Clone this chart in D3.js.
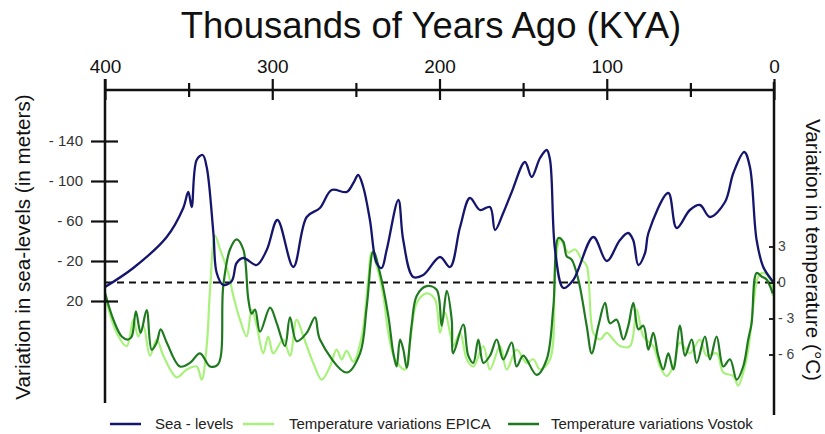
<!DOCTYPE html>
<html>
<head>
<meta charset="utf-8">
<script src="https://cdn.jsdelivr.net/npm/d3@7"></script>
<style>
  body { margin: 0; background: #fff; }
  svg { font-family: "Liberation Sans", Arial, sans-serif; }
</style>
</head>
<body>
<div id="graph"></div>
<script>
// x in thousands of years ago, sea level in the axis units (negative = up), temps in deg C
var xTicks = [400, 300, 200, 100, 0]
var seaTicks = [-140, -100, -60, -20, 20]
var tempTicks = [3, 0, -3, -6]
var legendNames = ["Sea - levels", "Temperature variations EPICA", "Temperature variations Vostok"]
var colors = ["#15156e", "#a8f27c", "#1f7a1f"]

var seaKya = [400, 383.1, 363.1, 353.2, 350.2, 348.2, 345.2, 341.6, 339.2, 335.2, 333.2, 329.3, 324.2, 321.3, 317.3, 309.3, 303.3, 296.9, 287.4, 279.4, 271.5, 264.5, 255.5, 251.5, 248.6, 245.6, 241.6, 237.6, 234.6, 231.6, 224.6, 221.7, 215.7, 209.7, 199.7, 193.7, 187.7, 181.8, 175.8, 169.8, 166.8, 161.9, 156.8, 148.9, 144.9, 139.9, 135.9, 133.9, 130.9, 125.9, 120.0, 108.0, 100.0, 92.1, 87.2, 84.2, 81.1, 77.1, 75.1, 63.2, 58.2, 50.3, 44.3, 38.3, 29.3, 24.3, 17.8, 14.4, 10.4, 6.4, 1.4, 0]
var seaLevel = [6, -13, -44, -73, -89, -74, -121, -126, -114, -48, -8, 4, 0, -18, -23, -16, -31, -61, -14, -64, -73, -91, -89, -98, -106, -94, -61, -18, -13, -31, -81, -41, -4, -6, -24, -14, -54, -83, -71, -74, -51, -68, -89, -119, -104, -123, -131, -121, -31, 7, -1, -44, -20, -41, -48, -41, -16, -28, -48, -88, -53, -71, -76, -64, -79, -108, -129, -114, -41, -14, -1, 2]

var epicaKya = [400, 393.0, 387.0, 383.1, 380.1, 377.1, 373.1, 369.1, 365.1, 357.1, 351.1, 345.2, 342.2, 339.2, 337.2, 334.2, 331.2, 326.3, 323.3, 319.3, 315.3, 312.3, 309.3, 305.4, 302.4, 299.4, 293.4, 289.4, 285.4, 281.4, 275.5, 270.4, 265.5, 261.5, 258.5, 255.5, 251.5, 246.5, 242.6, 240.6, 237.6, 233.6, 230.6, 226.6, 220.6, 217.6, 213.6, 207.7, 202.7, 199.7, 196.7, 193.7, 191.8, 187.7, 183.7, 179.8, 173.8, 169.8, 163.8, 159.8, 153.9, 147.9, 143.9, 139.9, 133.9, 130.9, 127.9, 123.0, 118.9, 115.0, 112.0, 108.0, 104.0, 100.0, 96.1, 92.1, 86.1, 82.1, 78.1, 72.2, 68.2, 64.2, 60.2, 56.2, 50.3, 44.3, 40.3, 34.3, 30.3, 24.3, 21.4, 18.4, 15.4, 12.4, 9.4, 6.4, 2.4, 0.8]
var epicaTemp = [-1.1, -4.2, -5.3, -3.1, -4.5, -3.6, -6.1, -4.75, -6.1, -7.9, -7.25, -7.0, -8.1, -5.3, -0.6, 3.9, 2.75, 0.8, -1.1, -3.1, -4.5, -2.25, -3.6, -5.9, -4.5, -5.9, -4.75, -6.1, -3.1, -4.5, -6.7, -8.1, -7.0, -5.6, -6.4, -5.7, -6.6, -4.5, 0.25, 2.5, 1.4, -1.1, -4.2, -6.4, -7.25, -5.0, -1.7, -0.9, -1.4, -4.2, -2.5, -4.2, -5.3, -4.2, -6.4, -7.0, -5.3, -7.25, -5.3, -7.25, -5.6, -6.7, -6.4, -7.25, -6.4, 0.8, 3.6, 2.5, 2.75, 1.9, 1.4, -4.2, -4.75, -4.2, -4.75, -5.3, -5.3, -2.25, -4.5, -5.3, -7.0, -7.8, -7.0, -5.0, -5.9, -4.75, -6.1, -5.9, -7.5, -7.8, -8.6, -7.5, -5.6, -2.0, 0.5, 0.8, 0.25, -1.1]

var vostokKya = [400, 395.0, 390.0, 386.1, 384.0, 381.5, 378.7, 375.1, 372.1, 369.1, 366.7, 363.1, 355.2, 349.2, 343.2, 337.2, 332.3, 329.3, 325.3, 321.3, 317.3, 314.3, 312.3, 310.3, 307.3, 301.3, 297.3, 292.4, 289.4, 285.4, 279.4, 274.4, 271.5, 255.5, 247.5, 243.5, 239.6, 235.6, 230.6, 227.6, 225.6, 223.6, 221.6, 219.6, 216.7, 213.6, 207.7, 201.7, 198.7, 195.7, 192.7, 191.8, 185.8, 182.8, 179.8, 176.8, 173.8, 169.8, 165.8, 161.9, 156.8, 153.9, 149.9, 141.9, 135.9, 131.9, 128.9, 126.0, 124.0, 121.0, 117.0, 112.0, 109.0, 105.0, 101.0, 98.1, 94.1, 90.1, 87.1, 84.1, 81.1, 78.1, 75.1, 72.2, 69.2, 66.2, 63.2, 60.2, 56.2, 53.2, 49.2, 46.2, 41.3, 38.3, 34.3, 30.3, 26.3, 22.3, 18.4, 15.4, 13.4, 10.4, 7.4, 4.4, 2.4, 0.8]
var vostokTemp = [-0.86, -3.1, -4.5, -4.75, -4.5, -2.4, -4.2, -2.3, -5.6, -5.0, -3.9, -5.0, -7.0, -6.7, -5.9, -7.0, -6.8, -0.3, 2.75, 3.6, 2.75, -1.4, -2.6, -2.25, -4.1, -2.1, -3.4, -5.3, -2.9, -4.9, -4.2, -2.9, -4.75, -7.5, -5.9, -2.0, 2.6, 0.8, -2.8, -5.9, -7.0, -4.75, -5.6, -7.1, -3.6, -1.1, -0.3, -0.6, -3.6, -0.7, -3.1, -5.9, -3.5, -6.1, -6.7, -4.75, -6.7, -6.1, -4.75, -6.4, -5.0, -7.0, -6.1, -7.7, -6.4, -2.0, 3.7, 3.4, 2.2, 1.9, 0.25, -3.6, -5.9, -3.6, -1.7, -3.4, -3.1, -4.75, -3.6, -1.7, -3.9, -3.6, -5.6, -4.2, -6.1, -7.25, -5.9, -7.25, -3.6, -6.1, -4.75, -6.7, -4.5, -6.4, -4.5, -7.0, -6.4, -8.1, -7.0, -4.75, -3.4, 0.8, 0.5, 0.25, -0.3, -0.9]

window.onload = function(){
  drawChart()
}

function pairs(xs, ys){
  return xs.map(function(d, i){ return {x: d, y: ys[i]} })
}

function minusLabel(d){
  return d < 0 ? "- " + (-d) : "" + d
}

function drawChart(){
  var width = 825, height = 434

  var svg = d3.select("#graph").append("svg")
    .attr("width", width)
    .attr("height", height)

  var xScale = d3.scaleLinear().domain([400, 0]).range([105, 774])
  var seaScale = d3.scaleLinear().domain([-140, 20]).range([141, 301])
  var tempScale = d3.scaleLinear().domain([-6, 3]).range([354.5, 246.5])

  // title
  svg.append("text")
    .attr("x", 431).attr("y", 38)
    .attr("text-anchor", "middle")
    .attr("font-size", 36.5)
    .attr("fill", "#111")
    .text("Thousands of Years Ago (KYA)")

  // side labels
  svg.append("text")
    .attr("transform", "translate(30,247) rotate(-90)")
    .attr("text-anchor", "middle")
    .attr("font-size", 20.7)
    .attr("fill", "#111")
    .text("Variation in sea-levels (in meters)")

  svg.append("text")
    .attr("transform", "translate(806,250) rotate(90)")
    .attr("text-anchor", "middle")
    .attr("font-size", 20.7)
    .attr("fill", "#111")
    .text("Variation in temperature (°C)")

  // zero line
  svg.append("line")
    .attr("x1", 105).attr("x2", 780)
    .attr("y1", tempScale(0)).attr("y2", tempScale(0))
    .attr("stroke", "#111")
    .attr("stroke-width", 2)
    .attr("stroke-dasharray", "7,5")

  // series
  var line = d3.line()
    .x(function(d){ return xScale(d.x) })
    .curve(d3.curveCatmullRom.alpha(0.5))

  svg.append("path")
    .datum(pairs(epicaKya, epicaTemp))
    .attr("fill", "none")
    .attr("stroke", colors[1])
    .attr("stroke-width", 2.2)
    .attr("stroke-linejoin", "round")
    .attr("d", line.y(function(d){ return tempScale(d.y) }))

  svg.append("path")
    .datum(pairs(vostokKya, vostokTemp))
    .attr("fill", "none")
    .attr("stroke", colors[2])
    .attr("stroke-width", 2.2)
    .attr("stroke-linejoin", "round")
    .attr("d", line.y(function(d){ return tempScale(d.y) }))

  svg.append("path")
    .datum(pairs(seaKya, seaLevel))
    .attr("fill", "none")
    .attr("stroke", colors[0])
    .attr("stroke-width", 2.3)
    .attr("stroke-linejoin", "round")
    .attr("d", line.y(function(d){ return seaScale(d.y) }))

  // top axis
  var gx = svg.append("g")
    .attr("transform", "translate(0,90)")
    .call(d3.axisTop(xScale).tickValues(d3.range(400, -1, -50))
      .tickFormat(function(d){ return xTicks.indexOf(d) >= 0 ? d : "" }))
  gx.select(".domain").remove()
  gx.selectAll(".tick line")
    .attr("y1", function(d){ return d % 100 === 0 ? 10 : 7 })
    .attr("y2", function(d){ return d % 100 === 0 ? -11 : -7 })
    .attr("stroke", "#111")
    .attr("stroke-width", 2.2)
  gx.selectAll(".tick text")
    .attr("y", -17)
    .attr("font-size", 19)
    .attr("font-family", "Liberation Sans, Arial, sans-serif")
    .attr("fill", "#111")
  svg.append("line")
    .attr("x1", 104).attr("x2", 775)
    .attr("y1", 90).attr("y2", 90)
    .attr("stroke", "#111").attr("stroke-width", 2.5)

  // left axis
  var gy = svg.append("g")
    .attr("transform", "translate(105,0)")
    .call(d3.axisLeft(seaScale).tickValues(seaTicks).tickFormat(minusLabel))
  gy.select(".domain").remove()
  gy.selectAll(".tick line")
    .attr("x1", -14).attr("x2", 13)
    .attr("stroke", "#111").attr("stroke-width", 2.2)
  gy.selectAll(".tick text")
    .attr("x", -22)
    .attr("font-size", 15)
    .attr("font-family", "Liberation Sans, Arial, sans-serif")
    .attr("fill", "#333")
  svg.append("line")
    .attr("x1", 105).attr("x2", 105)
    .attr("y1", 79).attr("y2", 403)
    .attr("stroke", "#111").attr("stroke-width", 2.5)

  // right axis
  var gr = svg.append("g")
    .attr("transform", "translate(774,0)")
    .call(d3.axisRight(tempScale).tickValues(tempTicks).tickFormat(minusLabel))
  gr.select(".domain").remove()
  gr.selectAll(".tick line")
    .attr("x1", -5).attr("x2", 0)
    .attr("stroke", "#111").attr("stroke-width", 1.8)
  gr.selectAll(".tick text")
    .attr("x", 4)
    .attr("font-size", 14)
    .attr("font-family", "Liberation Sans, Arial, sans-serif")
    .attr("fill", "#444")
  svg.append("line")
    .attr("x1", 774).attr("x2", 774)
    .attr("y1", 82).attr("y2", 415)
    .attr("stroke", "#111").attr("stroke-width", 2.5)

  // legend
  var legX = [110, 243, 508]
  var legTextX = [155, 289, 551]
  var legend = svg.append("g")
  legend.selectAll("line")
    .data(legendNames)
    .enter().append("line")
    .attr("x1", function(d, i){ return legX[i] })
    .attr("x2", function(d, i){ return legX[i] + 31 })
    .attr("y1", 424).attr("y2", 424)
    .attr("stroke", function(d, i){ return colors[i] })
    .attr("stroke-width", 2.5)
  legend.selectAll("text")
    .data(legendNames)
    .enter().append("text")
    .attr("x", function(d, i){ return legTextX[i] })
    .attr("y", 429)
    .attr("font-size", 15)
    .attr("fill", "#222")
    .text(function(d){ return d })
}
</script>
</body>
</html>
